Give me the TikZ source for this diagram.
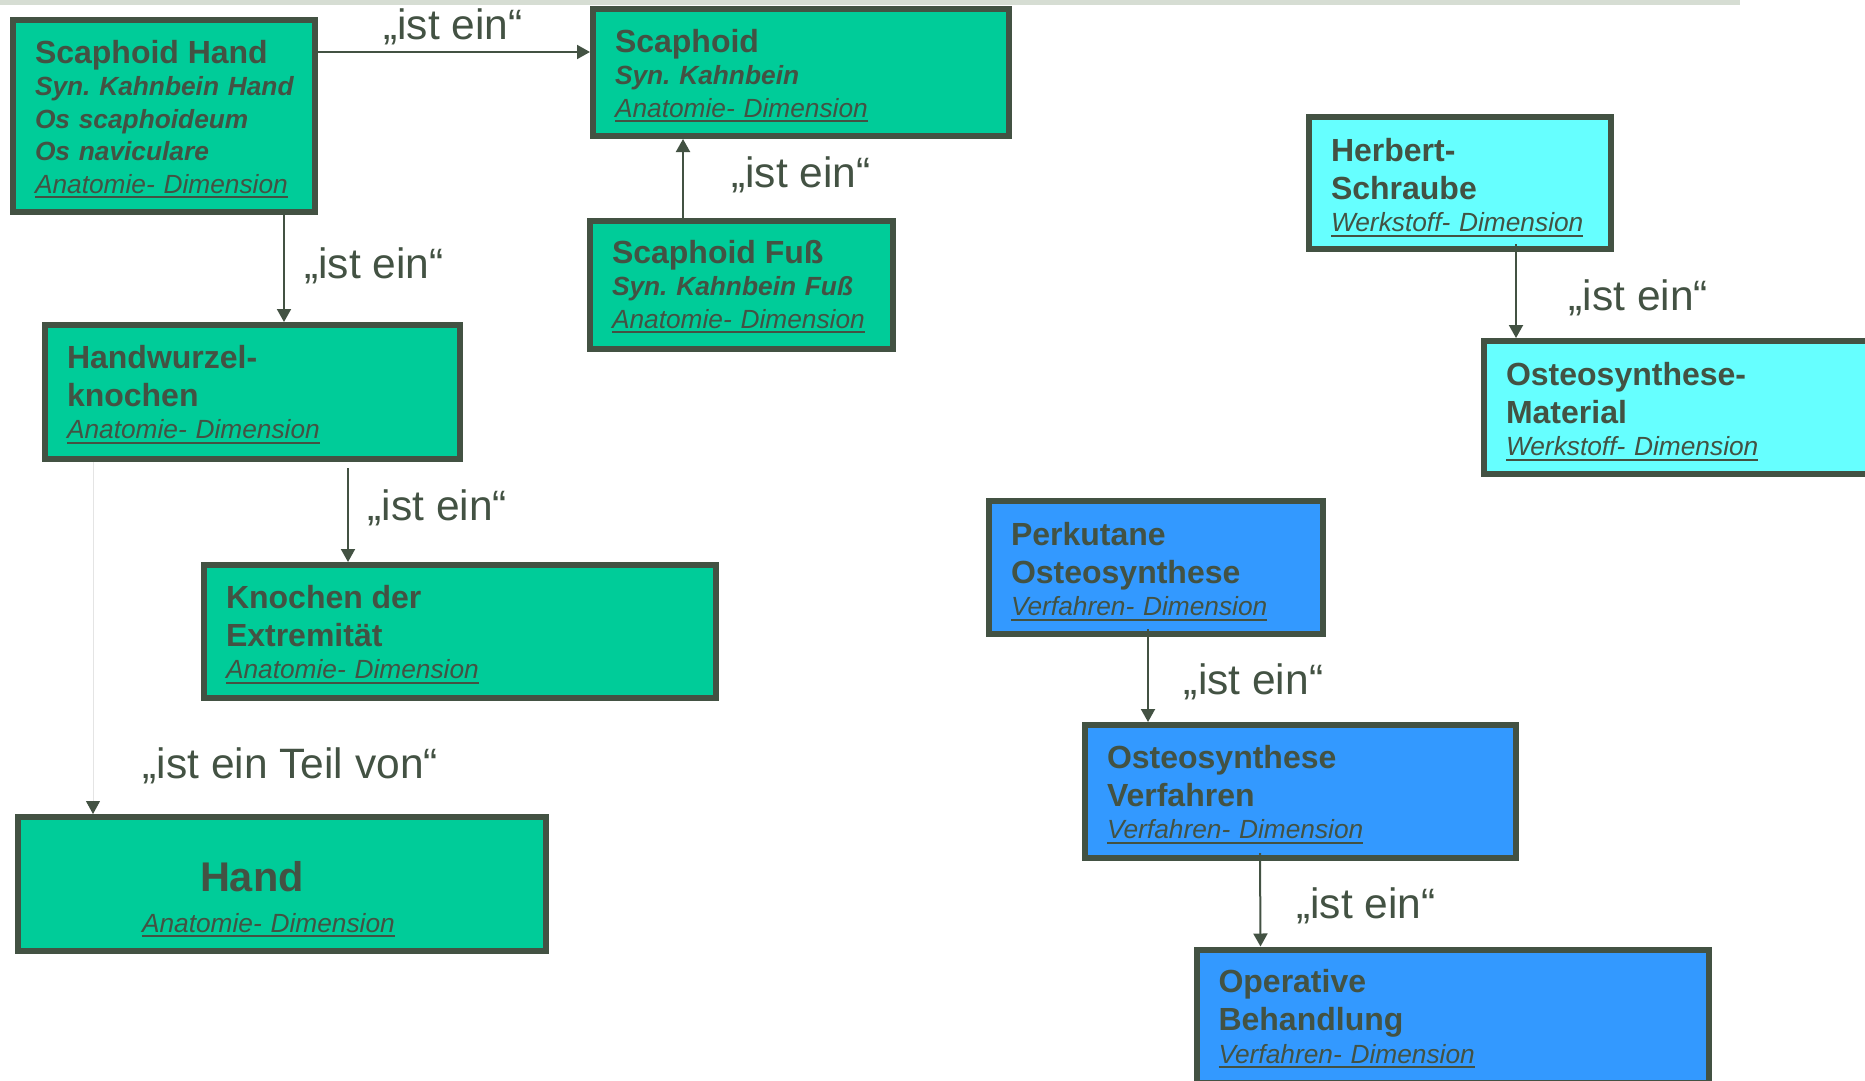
\documentclass[tikz,border=0pt]{standalone}
\usepackage{fontspec}
\setmainfont{Liberation Sans}
\usetikzlibrary{arrows.meta}
\frenchspacing

\definecolor{ink}{RGB}{67,82,67}
\definecolor{anatomy}{RGB}{0,204,153}
\definecolor{material}{RGB}{102,255,255}
\definecolor{method}{RGB}{51,153,255}
\definecolor{band}{RGB}{214,221,211}
\definecolor{faint}{RGB}{228,228,228}

\newsavebox{\dimbox}
\newcommand{\dimtext}[1]{\leavevmode\sbox{\dimbox}{\itshape #1}\rlap{\rule[-5pt]{\wd\dimbox}{2pt}}\usebox{\dimbox}}
\newcommand{\headline}[1]{{\fontsize{32}{38}\selectfont\bfseries #1}}
\newcommand{\synline}[1]{\mbox{\bfseries\itshape #1}}

\begin{document}
\begin{tikzpicture}[x=1pt,y=-1pt,
  box/.style={draw=ink,line width=6pt,outer sep=3pt,inner xsep=22pt,inner ysep=0pt,
    anchor=north west,align=left,text=ink,text height=43.3pt,text depth=89.5pt,
    font=\fontsize{26.3}{32.5}\selectfont},
  anatomie/.style={box,fill=anatomy},
  werkstoff/.style={box,fill=material},
  verfahren/.style={box,fill=method},
  isa/.style={draw=ink,line width=2pt,-{Triangle[length=13pt,width=14pt]}},
  partof/.style={draw=faint,line width=1pt,-{Triangle[length=13pt,width=14pt,color=ink]}},
  relname/.style={anchor=base west,inner sep=0pt,text=ink,font=\fontsize{42.5}{50}\selectfont}]
\useasboundingbox (0,0) rectangle (1865,1081);
\clip (0,0) rectangle (1865,1081);
\fill[band] (0,0) rectangle (1740,5);

\node[anatomie,text width=258pt,text depth=148.7pt] (scaphhand) at (10,17)
  {\headline{Scaphoid Hand}\\ \synline{Syn. Kahnbein Hand}\\ \synline{Os scaphoideum}\\
   \synline{Os naviculare}\\ \dimtext{Anatomie- Dimension}};
\node[anatomie,text width=372pt,text depth=83.7pt] (scaphoid) at (590,6)
  {\headline{Scaphoid}\\ \synline{Syn. Kahnbein}\\ \dimtext{Anatomie- Dimension}};
\node[anatomie,text width=259pt,text height=42pt,text depth=86pt] (scaphfuss) at (587,218)
  {\headline{Scaphoid Fuß}\\ \synline{Syn. Kahnbein Fuß}\\ \dimtext{Anatomie- Dimension}};
\node[anatomie,text width=371pt,text depth=90.7pt] (handwurzel) at (42,322)
  {\headline{Handwurzel-}\\[5.5pt] \headline{knochen}\\ \dimtext{Anatomie- Dimension}};
\node[anatomie,text width=468pt,text depth=89.7pt] (knochen) at (201,562)
  {\headline{Knochen der}\\[5.5pt] \headline{Extremität}\\ \dimtext{Anatomie- Dimension}};
\node[anatomie,text width=484pt,text height=74.7pt,text depth=59.3pt] (hand) at (14.5,814)
  {\hspace*{160.5pt}{\fontsize{41.5}{48}\selectfont\bfseries Hand}\\[8pt]
   \hspace*{102.5pt}\dimtext{Anatomie- Dimension}};

\node[werkstoff,text width=258pt,text height=44pt,text depth=88pt] (herbert) at (1306,114)
  {\headline{Herbert-}\\[5.5pt] \headline{Schraube}\\ \dimtext{Werkstoff- Dimension}};
\node[werkstoff,text width=370pt,text height=44pt,text depth=89pt] (osmaterial) at (1481,338)
  {\headline{Osteosynthese-}\\[5.5pt] \headline{Material}\\ \dimtext{Werkstoff- Dimension}};

\node[verfahren,text width=290pt,text height=44.2pt,text depth=88.8pt] (perkutan) at (986,498)
  {\headline{Perkutane}\\[5.5pt] \headline{Osteosynthese}\\ \dimtext{Verfahren- Dimension}};
\node[verfahren,text width=387pt,text height=43.2pt,text depth=89.8pt] (osverfahren) at (1082,722)
  {\headline{Osteosynthese}\\[5.5pt] \headline{Verfahren}\\ \dimtext{Verfahren- Dimension}};
\node[verfahren,text width=468pt,text depth=89.7pt] (operativ) at (1193.5,946.5)
  {\headline{Operative}\\[5.5pt] \headline{Behandlung}\\ \dimtext{Verfahren- Dimension}};

\draw[isa] ([yshift=-35pt]scaphhand.north east) -- ([yshift=-46pt]scaphoid.north west);
\draw[isa] ([xshift=274pt]scaphhand.south west) -- ([xshift=242pt]handwurzel.north west);
\draw[isa] ([xshift=96pt]scaphfuss.north west) -- ([xshift=93pt]scaphoid.south west);
\draw[isa] ([xshift=306pt,yshift=-6pt]handwurzel.south west) -- ([xshift=147pt]knochen.north west);
\draw[partof] ([xshift=51pt]handwurzel.south west) -- ([xshift=78.5pt]hand.north west);
\draw[isa] ([xshift=210pt,yshift=8pt]herbert.south west) -- ([xshift=35pt]osmaterial.north west);
\draw[isa] ([xshift=162pt,yshift=8pt]perkutan.south west) -- ([xshift=66pt]osverfahren.north west);
\draw[isa] ([xshift=178pt,yshift=8pt]osverfahren.south west) -- ([xshift=67pt]operativ.north west);

\node[relname] (isascaphoid) at (383,40) {„ist ein“};
\node[relname] (isahandwurzel) at (304,278) {„ist ein“};
\node[relname] (isafuss) at (731,187) {„ist ein“};
\node[relname] (isaknochen) at (367.5,520) {„ist ein“};
\node[relname] (partofhand) at (142.5,778.3) {„ist ein Teil von“};
\node[relname] (isamaterial) at (1568.5,310) {„ist ein“};
\node[relname] (isaverfahren) at (1183.7,694.6) {„ist ein“};
\node[relname] (isaoperativ) at (1296,918.9) {„ist ein“};
\end{tikzpicture}
\end{document}
